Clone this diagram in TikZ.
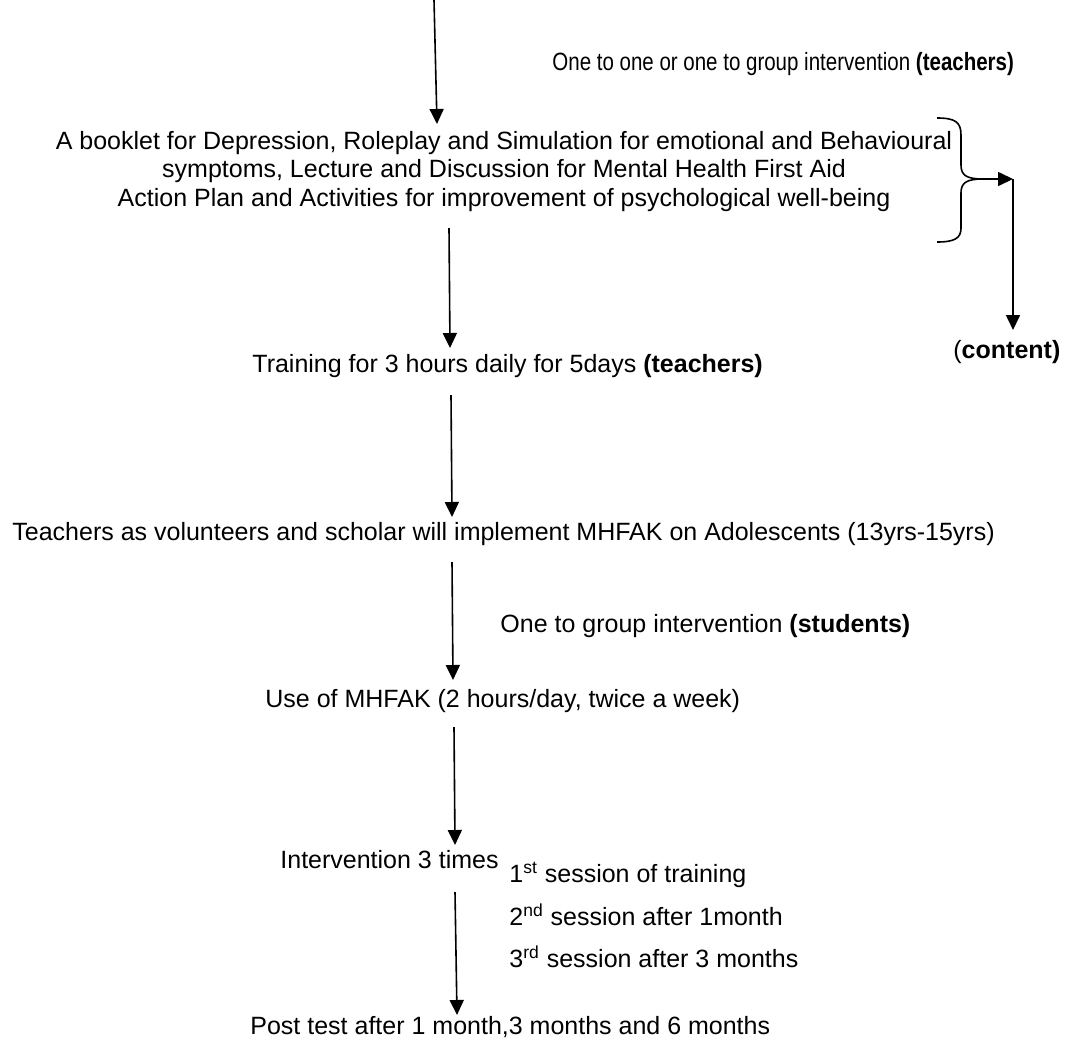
\documentclass[tikz,border=0pt]{standalone}
\usepackage{fontspec}
\setmainfont{Liberation Sans}
\usetikzlibrary{arrows.meta}

\tikzset{
  line/.style={line width=0.8pt},
  flow/.style={line, -{Triangle[length=7.5pt,width=7pt]}},
  lbl/.style={inner sep=0pt, text height=0.72em, text depth=0.21em}
}

\begin{document}
\begin{tikzpicture}[x=0.5pt, y=-0.5pt, font=\fontsize{12.5}{14.25}\selectfont]

\useasboundingbox (0,0) rectangle (1065,1039);

% texts
\node[lbl, anchor=west] (mode1) at (552,65)
  {\scalebox{0.82}[1]{One to one or one to group intervention \textbf{(teachers)}}};
\node[inner sep=0pt, align=center] (booklet) at (504,171.5)
  {A booklet for Depression, Roleplay and Simulation for emotional and Behavioural\\
   symptoms, Lecture and Discussion for Mental Health First Aid\\
   Action Plan and Activities for improvement of psychological well-being};
\node[lbl, anchor=west] (train) at (252,367) {Training for 3 hours daily for 5days \textbf{(teachers)}};
\node[lbl, anchor=west] (implement) at (12,535) {Teachers as volunteers and scholar will implement MHFAK on Adolescents (13yrs-15yrs)};
\node[lbl, anchor=west] (mode2) at (500,627) {One to group intervention \textbf{(students)}};
\node[lbl, anchor=west] (use) at (265,702) {Use of MHFAK (2 hours/day, twice a week)};
\node[lbl, anchor=west] (times) at (280,863) {Intervention 3 times};
\node[lbl, anchor=west] (sess1) at (509,877) {1\textsuperscript{st} session of training};
\node[lbl, anchor=west] (sess2) at (509,920) {2\textsuperscript{nd} session after 1month};
\node[lbl, anchor=west] (sess3) at (509,962) {3\textsuperscript{rd} session after 3 months};
\node[lbl, anchor=west] (post) at (250,1029) {Post test after 1 month,3 months and 6 months};
\node[lbl, anchor=west] (content) at (953,353) {(\textbf{content)}};

% arrows of the main flow
\foreach \i/\xa/\ya/\xb/\yb in {1/434/0/437/124, 2/449/228/450/348, 3/451/395/452/517,
                                4/452/562/453/680, 5/454/727/455/845, 6/455/892/457/1015}{
\coordinate (s\i) at (\xa,\ya);
\coordinate (e\i) at (\xb,\yb);
\draw[flow] (s\i) -- (e\i);
}

% brace round the booklet
\coordinate (tip) at (983,179);
\coordinate (corner) at (1013,179);
\coordinate (cend) at (1013,330);
\draw[line] (937,118) .. controls (955,118) and (961,122) .. (961,135) -- (961,165)
  .. controls (961,175) and (966,179) .. (tip)
  .. controls (966,179) and (961,183) .. (961,193) -- (961,228)
  .. controls (961,238) and (955,242) .. (937,242);
\draw[flow] (tip) -- (corner);
\draw[flow] (corner) -- (cend);

\end{tikzpicture}
\end{document}
